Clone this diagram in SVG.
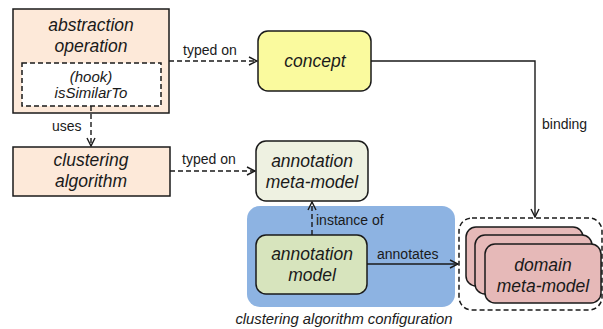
<svg xmlns="http://www.w3.org/2000/svg" width="603" height="329" viewBox="0 0 603 329">
  <style>
    text { font-family: "Liberation Sans", Arial, sans-serif; fill: #1a1a1a; }
    .node { font-size: 17.5px; font-style: italic; text-anchor: middle; }
    .hook { font-size: 15px; font-style: italic; text-anchor: middle; }
    .lbl { font-size: 14px; }
    .box { stroke: #1a1a1a; stroke-width: 1.5; }
    .edge { fill: none; stroke: #1a1a1a; stroke-width: 1.4; }
    .dash { stroke-dasharray: 5 3; }
  </style>
  <defs>
    <marker id="open" viewBox="0 0 10 10" refX="9" refY="5" markerWidth="10" markerHeight="10" markerUnits="userSpaceOnUse" orient="auto">
      <path d="M1,1 L9,5 L1,9" fill="none" stroke="#1a1a1a" stroke-width="1.4"/>
    </marker>
  </defs>

  <!-- configuration region -->
  <g id="configuration">
    <rect x="247" y="206" width="208" height="101" rx="13" fill="#8db3e2"/>
    <text class="hook" x="344" y="324" style="font-size:14.8px">clustering algorithm configuration</text>
  </g>

  <g id="abstraction-operation">
    <rect class="box" x="13" y="9" width="156" height="104" fill="#fde9d9"/>
    <text class="node" x="91" y="31">abstraction</text>
    <text class="node" x="91" y="52">operation</text>
  </g>

  <g id="hook">
    <rect class="box dash" x="22" y="63" width="139" height="43" fill="#ffffff"/>
    <text class="hook" x="91" y="82">(hook)</text>
    <text class="hook" x="91" y="98">isSimilarTo</text>
  </g>

  <g id="clustering-algorithm">
    <rect class="box" x="13" y="147" width="157" height="49" fill="#fde9d9"/>
    <text class="node" x="91" y="166">clustering</text>
    <text class="node" x="91" y="187">algorithm</text>
  </g>

  <g id="concept">
    <rect class="box" x="258" y="31" width="113" height="60" rx="10" fill="#fafa9e"/>
    <text class="node" x="315" y="67">concept</text>
  </g>

  <g id="annotation-meta-model">
    <rect class="box" x="256" y="141" width="112" height="60" rx="10" fill="#eef1e1"/>
    <text class="node" x="312" y="167">annotation</text>
    <text class="node" x="312" y="188">meta-model</text>
  </g>

  <g id="annotation-model">
    <rect class="box" x="256" y="235" width="111" height="59" rx="10" fill="#d7e4bd"/>
    <text class="node" x="312" y="260">annotation</text>
    <text class="node" x="312" y="281">model</text>
  </g>

  <g id="domain-meta-model">
    <rect class="box dash" x="459" y="218" width="143" height="92" rx="13" fill="none"/>
    <rect class="box" x="466" y="227" width="117" height="59" rx="10" fill="#e6b9b8"/>
    <rect class="box" x="475" y="235" width="117" height="59" rx="10" fill="#e6b9b8"/>
    <rect class="box" x="485" y="244" width="116" height="59" rx="10" fill="#e6b9b8"/>
    <text class="node" x="543" y="271">domain</text>
    <text class="node" x="543" y="292">meta-model</text>
  </g>

  <g id="connectors">
    <line class="edge dash" x1="169" y1="61" x2="257" y2="61" marker-end="url(#open)"/>
    <text class="lbl" x="183" y="55">typed on</text>

    <line class="edge dash" x1="91" y1="106" x2="91" y2="146" marker-end="url(#open)"/>
    <text class="lbl" x="52" y="131">uses</text>

    <line class="edge dash" x1="170" y1="171" x2="255" y2="171" marker-end="url(#open)"/>
    <text class="lbl" x="182" y="164">typed on</text>

    <polyline class="edge" points="371,61 535,61 535,217" marker-end="url(#open)"/>
    <text class="lbl" x="542" y="129">binding</text>

    <line class="edge dash" x1="312" y1="235" x2="312" y2="202" marker-end="url(#open)"/>
    <text class="lbl" x="316" y="225">instance of</text>

    <line class="edge" x1="367" y1="264" x2="458" y2="264" marker-end="url(#open)"/>
    <text class="lbl" x="377" y="259">annotates</text>
  </g>
</svg>
